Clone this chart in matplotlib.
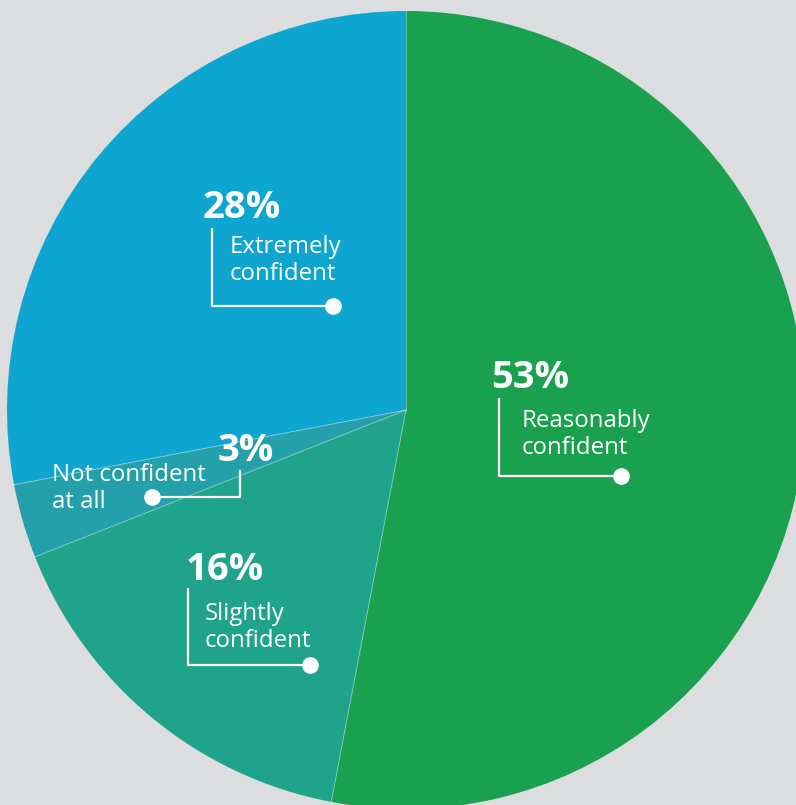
import matplotlib
matplotlib.use("Agg")
import matplotlib.pyplot as plt
import numpy as np

# confidence shares, clockwise from 12 o'clock
labels = ["Reasonably\nconfident", "Slightly\nconfident", "Not confident\nat all", "Extremely\nconfident"]
shares = [53, 16, 3, 28]
colors = ["#1aa150", "#1fa38a", "#24a0aa", "#0ea5d1"]

W, H = 796, 805
bg = "#dcdddf"

fig = plt.figure(figsize=(W / 100, H / 100), dpi=100, facecolor=bg)
ax = fig.add_axes([0, 0, 1, 1])
ax.set_facecolor(bg)


def py(y):
    # top-down pixel row to data y
    return H - y


cx, cy, r = 406, py(410), 399
wedges, _ = ax.pie(shares, colors=colors, startangle=90, counterclock=False,
                   center=(cx, cy), radius=r, wedgeprops=dict(linewidth=0))
# faint separators along the slice edges only
for w in wedges:
    a = np.deg2rad(w.theta1)
    ax.plot([cx, cx + r * np.cos(a)], [cy, cy + r * np.sin(a)],
            color="white", alpha=0.3, lw=0.8)

ax.set_xlim(0, W)
ax.set_ylim(0, H)
ax.set_aspect("auto")
ax.axis("off")

pct_font = dict(family="Open Sans", weight="bold", size=27.5, color="white")
lab_font = dict(family="Open Sans", size=17.3, color="white", linespacing=1.17)


def callout(i, pct_xy, lab_xy, corner, dot):
    ax.text(pct_xy[0], py(pct_xy[1]), f"{shares[i]}%", ha="left", va="baseline", **pct_font)
    ax.text(lab_xy[0], py(lab_xy[1]), labels[i], ha="left", va="top", **lab_font)
    x0, y0 = corner
    ax.plot([x0, x0, dot[0]], [py(y0), py(dot[1]), py(dot[1])], color="white", lw=1.6,
            solid_capstyle="butt")
    ax.plot(dot[0], py(dot[1]), "o", color="white", ms=12, mec="none")


callout(0, (491, 388), (522, 409), (499, 398), (621, 476))
callout(1, (186, 580), (205, 602), (188, 588), (310, 665))
callout(2, (218, 461), (52, 463), (240, 470), (152, 497))
callout(3, (203, 218), (230, 235), (212, 228), (333, 306))

fig.savefig("out.png", dpi=100, facecolor=bg)
